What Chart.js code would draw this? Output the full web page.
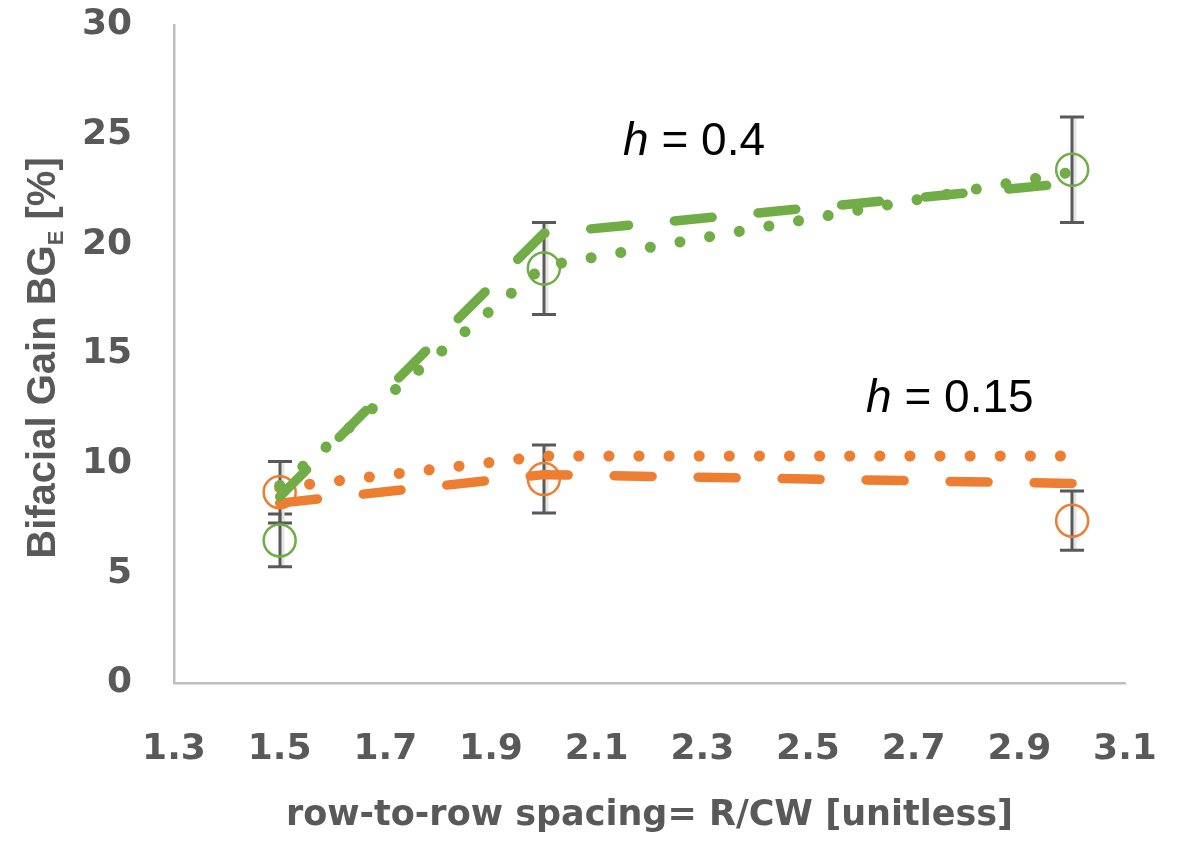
<!DOCTYPE html>
<html lang="en">
<head>
<meta charset="UTF-8" />
<title>Bifacial gain vs row-to-row spacing</title>
<script src="https://cdn.jsdelivr.net/npm/chart.js"></script>
<style>
  body { margin: 0; background: #fff; }
  #wrap { width: 1185px; height: 841px; }
</style>
</head>
<body>
<div id="wrap"><canvas id="chart" width="1185" height="841"></canvas></div>
<script>
// row-to-row spacing where curves / measurements are given
const spacing = [1.5, 2.0, 3.0];

// model curves
const h04Dotted = [9.0, 19.0, 23.3];
const h04Dashed = [8.5, 20.5, 22.8];
const h015Dotted = [8.9, 10.35, 10.35];
const h015Dashed = [8.2, 9.5, 9.1];

// measured points and their error (+/-)
const h04Meas = [6.5, 18.9, 23.4];
const h04Err = [1.2, 2.1, 2.4];
const h015Meas = [8.7, 9.3, 7.4];
const h015Err = [1.4, 1.55, 1.35];

const xTicks = [1.3, 1.5, 1.7, 1.9, 2.1, 2.3, 2.5, 2.7, 2.9, 3.1];
const yTicks = [0, 5, 10, 15, 20, 25, 30];

// curve labels
const noteX = [2.15, 2.61];
const noteY = [24.08, 12.36];
const noteVal = ['0.4', '0.15'];

const GREEN = '#70AD47';
const ORANGE = '#ED7D31';
const GREY = '#595959';

const pts = vals => spacing.map((s, i) => ({ x: s, y: vals[i] }));

const dotted = (vals, color) => ({
    data: pts(vals), showLine: true, borderColor: color, borderWidth: 11,
    borderDash: [0.1, 30], borderCapStyle: 'round', pointRadius: 0, tension: 0
});
const dashed = (vals, color) => ({
    data: pts(vals), showLine: true, borderColor: color, borderWidth: 9.5,
    borderDash: [38, 46], borderCapStyle: 'round', pointRadius: 0, tension: 0
});
const circles = (vals, color) => ({
    data: pts(vals), showLine: false, pointRadius: 16, pointBorderWidth: 2.5,
    borderColor: color, pointBackgroundColor: 'rgba(0,0,0,0)', pointStyle: 'circle'
});

// vertical error bars with caps
const errorBars = {
    id: 'errorBars',
    beforeDatasetsDraw(chart) {
        const { ctx, scales: { x, y } } = chart;
        ctx.save();
        [[h04Meas, h04Err], [h015Meas, h015Err]].forEach(([vals, errs]) => {
            spacing.forEach((s, i) => {
                const px = Math.round(x.getPixelForValue(s));
                const top = y.getPixelForValue(vals[i] + errs[i]);
                const bot = y.getPixelForValue(vals[i] - errs[i]);
                ctx.strokeStyle = '#e4e4e4';
                ctx.lineWidth = 3;
                ctx.beginPath();
                ctx.moveTo(px + 3, top); ctx.lineTo(px + 3, bot);
                ctx.stroke();
                ctx.strokeStyle = GREY;
                ctx.beginPath();
                ctx.moveTo(px, top); ctx.lineTo(px, bot);
                ctx.moveTo(px - 12, top); ctx.lineTo(px + 12, top);
                ctx.moveTo(px - 12, bot); ctx.lineTo(px + 12, bot);
                ctx.stroke();
            });
        });
        ctx.restore();
    }
};

// "h = ..." labels and the y title with subscript
const textLayer = {
    id: 'textLayer',
    afterDraw(chart) {
        const { ctx, scales: { x, y } } = chart;
        ctx.save();
        ctx.fillStyle = '#000';
        ctx.textBaseline = 'alphabetic';
        ctx.textAlign = 'left';
        noteVal.forEach((v, i) => {
            let px = x.getPixelForValue(noteX[i]);
            const py = y.getPixelForValue(noteY[i]);
            ctx.font = 'italic 46px "Liberation Sans"';
            ctx.fillText('h', px, py);
            px += ctx.measureText('h').width;
            ctx.font = '46px "Liberation Sans"';
            ctx.fillText(' = ' + v, px, py);
        });

        // rotated axis title: Bifacial Gain BG_E [%]
        const big = 'bold 40px "Liberation Sans"';
        const small = 'bold 22px "Liberation Sans"';
        ctx.font = big;
        const w1 = ctx.measureText('Bifacial Gain BG').width;
        const w3 = ctx.measureText(' [%]').width;
        ctx.font = small;
        const w2 = ctx.measureText('E').width;
        const total = w1 + w2 + w3;
        ctx.translate(55, 358);
        ctx.rotate(-Math.PI / 2);
        ctx.fillStyle = GREY;
        let tx = -total / 2;
        ctx.font = big;
        ctx.fillText('Bifacial Gain BG', tx, 0);
        tx += w1;
        ctx.font = small;
        ctx.fillText('E', tx, 8);
        tx += w2;
        ctx.font = big;
        ctx.fillText(' [%]', tx, 0);
        ctx.restore();
    }
};

new Chart(document.getElementById('chart'), {
    type: 'scatter',
    data: {
        datasets: [
            dotted(h04Dotted, GREEN),
            dashed(h04Dashed, GREEN),
            dotted(h015Dotted, ORANGE),
            dashed(h015Dashed, ORANGE),
            circles(h04Meas, GREEN),
            circles(h015Meas, ORANGE)
        ]
    },
    options: {
        responsive: false,
        animation: false,
        events: [],
        layout: { padding: { top: 25, right: 60, left: 0, bottom: 0 } },
        plugins: { legend: { display: false }, tooltip: { enabled: false } },
        scales: {
            x: {
                type: 'linear', min: 1.3, max: 3.1,
                afterBuildTicks: s => { s.ticks = xTicks.map(v => ({ value: v })); },
                afterFit: s => { s.height = 158; s.paddingLeft = 0; s.paddingRight = 0; },
                grid: { display: false },
                border: { display: true, color: '#bfbfbf', width: 2.5 },
                ticks: {
                    callback: v => v.toFixed(1), color: GREY, padding: 37,
                    maxRotation: 0, autoSkip: false,
                    font: { family: 'DejaVu Sans', size: 36, weight: 'bold' }
                },
                title: {
                    display: true, text: 'row-to-row spacing= R/CW [unitless]', color: GREY,
                    font: { family: 'DejaVu Sans', size: 35, weight: 'bold' },
                    padding: { top: 0, bottom: 4 }
                }
            },
            y: {
                min: 0, max: 30,
                afterBuildTicks: s => { s.ticks = yTicks.map(v => ({ value: v })); },
                afterFit: s => { s.width = 174; s.paddingTop = 0; s.paddingBottom = 0; },
                grid: { display: false },
                border: { display: true, color: '#bfbfbf', width: 2.5 },
                ticks: {
                    color: GREY, padding: 34,
                    font: { family: 'DejaVu Sans', size: 36, weight: 'bold' }
                }
            }
        }
    },
    plugins: [errorBars, textLayer]
});
</script>
</body>
</html>
